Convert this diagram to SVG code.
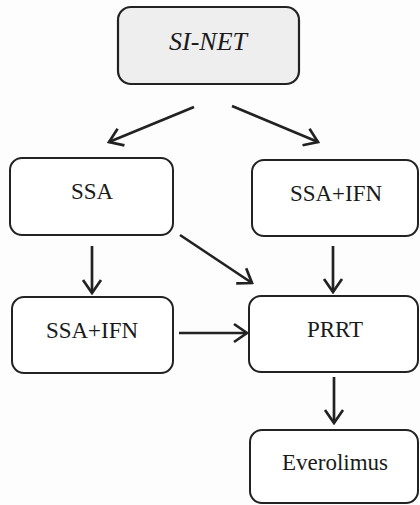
<svg xmlns="http://www.w3.org/2000/svg" width="420" height="505" viewBox="0 0 420 505">
<style>
.box{fill:#ffffff;stroke:#222;stroke-width:2}
.top{fill:#eeeeee;stroke:#222;stroke-width:2.2}
.lbl{font-family:"Liberation Serif","Times New Roman",serif;font-size:23px;fill:#1a1a1a;text-anchor:middle}
.it{font-style:italic;font-size:26px}
.conn{stroke:#222;stroke-width:2.7;fill:none;marker-end:url(#ah)}
</style>
<defs>
<marker id="ah" markerUnits="userSpaceOnUse" viewBox="0 0 17 22" refX="15" refY="11" markerWidth="17" markerHeight="22" orient="auto">
<path d="M2,2 L15,11 L2,20" fill="none" stroke="#222" stroke-width="2.7" stroke-linejoin="miter"/>
</marker>
</defs>
<rect width="420" height="505" fill="#fdfdfd"/>
<g id="si-net"><rect class="top" x="118" y="7" width="181" height="77" rx="13"/><text class="lbl it" x="208" y="50">SI-NET</text></g>
<g id="ssa"><rect class="box" x="10" y="158" width="163" height="77" rx="12"/><text class="lbl" x="92" y="199">SSA</text></g>
<g id="ssa-ifn-right"><rect class="box" x="252" y="160" width="166" height="76" rx="12"/><text class="lbl" x="336" y="201">SSA+IFN</text></g>
<g id="ssa-ifn-left"><rect class="box" x="12" y="297" width="161" height="76" rx="12"/><text class="lbl" x="92" y="338">SSA+IFN</text></g>
<g id="prrt"><rect class="box" x="249" y="296" width="169" height="76" rx="12"/><text class="lbl" x="335" y="337">PRRT</text></g>
<g id="everolimus"><rect class="box" x="250" y="430" width="168" height="73" rx="12"/><text class="lbl" x="335" y="470">Everolimus</text></g>
<g id="connectors">
<line class="conn" x1="194" y1="107" x2="109" y2="142"/>
<line class="conn" x1="232" y1="106" x2="318" y2="142"/>
<line class="conn" x1="92" y1="246" x2="92" y2="293"/>
<line class="conn" x1="180" y1="235" x2="252" y2="283"/>
<line class="conn" x1="333" y1="246" x2="333" y2="292"/>
<line class="conn" x1="179" y1="333" x2="247" y2="333"/>
<line class="conn" x1="334" y1="377" x2="334" y2="423"/>
</g>
</svg>
